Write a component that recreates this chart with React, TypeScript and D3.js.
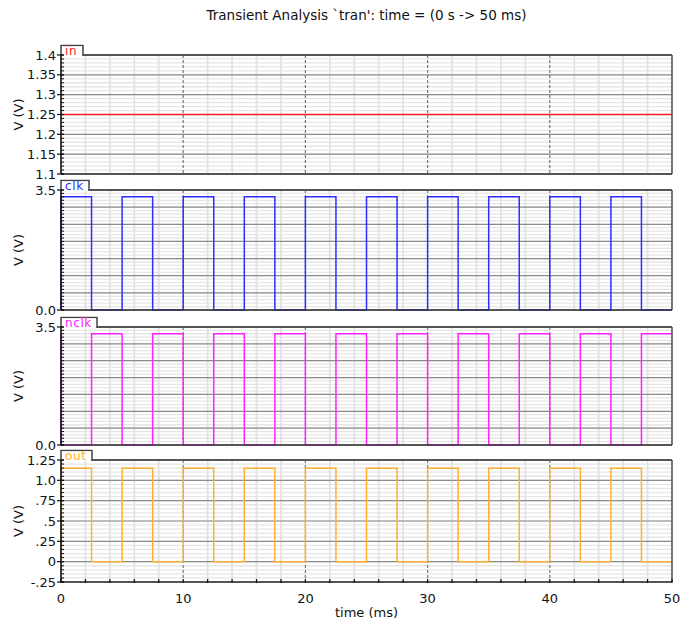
import React from 'react';
import * as d3 from 'd3';

const width = 680;
const height = 624;
const font = '"DejaVu Sans", Verdana, sans-serif';

const title = "Transient Analysis `tran': time = (0 s -> 50 ms)";
const xLabel = 'time (ms)';
const yLabel = 'V (V)';
const xTickLabels = [0, 10, 20, 30, 40, 50];

// switching instants (ms), first one doubled so the edge at t = 0 shows
const edgeTimes = [0, 0, 2.5, 5, 7.5, 10, 12.5, 15, 17.5, 20, 22.5, 25, 27.5, 30, 32.5, 35, 37.5, 40, 42.5, 45, 47.5, 50];
const clkValues = [0, 3.3, 0, 3.3, 0, 3.3, 0, 3.3, 0, 3.3, 0, 3.3, 0, 3.3, 0, 3.3, 0, 3.3, 0, 3.3, 0, 0];
const nclkValues = [3.3, 0, 3.3, 0, 3.3, 0, 3.3, 0, 3.3, 0, 3.3, 0, 3.3, 0, 3.3, 0, 3.3, 0, 3.3, 0, 3.3, 3.3];
const outValues = [0, 1.15, 0, 1.15, 0, 1.15, 0, 1.15, 0, 1.15, 0, 1.15, 0, 1.15, 0, 1.15, 0, 1.15, 0, 1.15, 0, 0];
const inTimes = [0, 50];
const inValues = [1.25, 1.25];

const inTicks = [1.1, 1.15, 1.2, 1.25, 1.3, 1.35, 1.4];
const inTickLabels = ['1.1', '1.15', '1.2', '1.25', '1.3', '1.35', '1.4'];
const clkTicks = [0, 3.5];
const clkTickLabels = ['0.0', '3.5'];
const outTicks = [-0.25, 0, 0.25, 0.5, 0.75, 1.0, 1.25];
const outTickLabels = ['-.25', '0', '.25', '.5', '.75', '1.0', '1.25'];

const left = 61;
const right = 672;

const panels = [
  { name: 'in', color: '#ff2020', times: inTimes, values: inValues, domain: [1.1, 1.4], top: 55, bottom: 174,
    ticks: inTicks, labels: inTickLabels, major: 0.05, minor: 0.01, tabW: 22 },
  { name: 'clk', color: '#2f2fff', times: edgeTimes, values: clkValues, domain: [0, 3.5], top: 190, bottom: 310,
    ticks: clkTicks, labels: clkTickLabels, major: 0.5, minor: 0.1, tabW: 28 },
  { name: 'nclk', color: '#ff22ff', times: edgeTimes, values: nclkValues, domain: [0, 3.5], top: 327, bottom: 445,
    ticks: clkTicks, labels: clkTickLabels, major: 0.5, minor: 0.1, tabW: 36 },
  { name: 'out', color: '#ffb030', times: edgeTimes, values: outValues, domain: [-0.25, 1.25], top: 460, bottom: 582,
    ticks: outTicks, labels: outTickLabels, major: 0.25, minor: 0.05, tabW: 31 },
];

const x = d3.scaleLinear().domain([0, 50]).range([left, right]);
const minorX = d3.range(0, 50.001, 2);
const majorX = [10, 20, 30, 40];

const steps = (lo: number, hi: number, step: number) =>
  d3.range(Math.round((hi - lo) / step) + 1).map(i => lo + i * step);

const Panel = ({ p, last }: { p: any; last: boolean }) => {
  const y = d3.scaleLinear().domain(p.domain).range([p.bottom, p.top]);
  const line = d3.line<number>()
    .x((_, i) => x(p.times[i]))
    .y(d => y(d))
    .curve(d3.curveStepAfter);
  const minorY = steps(p.domain[0], p.domain[1], p.minor);
  const majorY = steps(p.domain[0], p.domain[1], p.major);
  const mid = (p.top + p.bottom) / 2;
  const tabTop = p.top - 9.5;
  return (
    <g>
      {minorY.map((v, i) => (
        <line key={'mn' + i} x1={left} x2={right} y1={y(v)} y2={y(v)} stroke="#e6e6e6" strokeWidth={1.3} />
      ))}
      {minorX.filter(t => t % 10 !== 0).map(t => (
        <line key={'vx' + t} x1={x(t)} x2={x(t)} y1={p.top} y2={p.bottom} stroke="#e2e2e2" strokeWidth={1.8} />
      ))}
      {majorY.map((v, i) => (
        <line key={'mj' + i} x1={left} x2={right} y1={y(v)} y2={y(v)} stroke="#8c8c8c" strokeWidth={1.2} />
      ))}
      {majorX.map(t => (
        <line key={'dx' + t} x1={x(t)} x2={x(t)} y1={p.top} y2={p.bottom} stroke="#777" strokeWidth={1.2} strokeDasharray="3,2" />
      ))}
      <path d={line(p.values) || ''} fill="none" stroke={p.color} strokeWidth={1.5} />
      {/* frame */}
      <line x1={left} x2={right} y1={p.top} y2={p.top} stroke="#555" strokeWidth={2} />
      <line x1={right} x2={right} y1={p.top} y2={p.bottom} stroke="#555" strokeWidth={1.6} />
      <line x1={left} x2={right} y1={p.bottom} y2={p.bottom} stroke="#333" strokeWidth={1.6} />
      <line x1={left} x2={left} y1={p.top} y2={p.bottom} stroke="#111" strokeWidth={1.6} />
      {/* name tab */}
      <path d={`M${left},${p.top}V${tabTop}H${left + p.tabW}V${p.top}`} fill="#fff" stroke="#444" strokeWidth={1.5} />
      <rect x={left + 1} y={tabTop + 1} width={p.tabW - 2} height={p.top - tabTop} fill="#fff" />
      <text x={left + 4} y={p.top} fontSize={12} letterSpacing={0.6} fill={p.color} fontFamily={font}>{p.name}</text>
      {/* y axis ticks */}
      {minorY.map((v, i) => (
        <line key={'tm' + i} x1={left} x2={left + 3} y1={y(v)} y2={y(v)} stroke="#111" strokeWidth={1} />
      ))}
      {p.ticks.map((v: number, i: number) => (
        <g key={'tk' + i}>
          <line x1={left - 4} x2={left + 3} y1={y(v)} y2={y(v)} stroke="#111" strokeWidth={1.2} />
          <text x={left - 5} y={y(v)} dy="0.35em" textAnchor="end" fontSize={13} fontFamily={font} fill="#111">
            {p.labels[i]}
          </text>
        </g>
      ))}
      <text transform={`translate(23,${mid}) rotate(-90)`} textAnchor="middle" fontSize={13} fontFamily={font} fill="#111">
        {yLabel}
      </text>
      {last && (
        <g>
          {minorX.map(t => (
            <line key={'bt' + t} x1={x(t)} x2={x(t)} y1={p.bottom - 3} y2={p.bottom + 1} stroke="#111" strokeWidth={1.2} />
          ))}
          {xTickLabels.map(t => (
            <text key={'bl' + t} x={x(t)} y={p.bottom + 21} textAnchor="middle" fontSize={13} fontFamily={font} fill="#111">
              {t}
            </text>
          ))}
          <text x={(left + right) / 2} y={p.bottom + 35} textAnchor="middle" fontSize={13} fontFamily={font} fill="#111">
            {xLabel}
          </text>
        </g>
      )}
    </g>
  );
};

export default function App() {
  return (
    <svg width={width} height={height} style={{ position: 'absolute', left: 0, top: 0, background: '#fff' }}>
      <rect width={width} height={height} fill="#fff" />
      <text x={(left + right) / 2} y={20} textAnchor="middle" fontSize={13.5} fontFamily={font} fill="#111">
        {title}
      </text>
      {panels.map((p, i) => (
        <Panel key={p.name} p={p} last={i === panels.length - 1} />
      ))}
    </svg>
  );
}
